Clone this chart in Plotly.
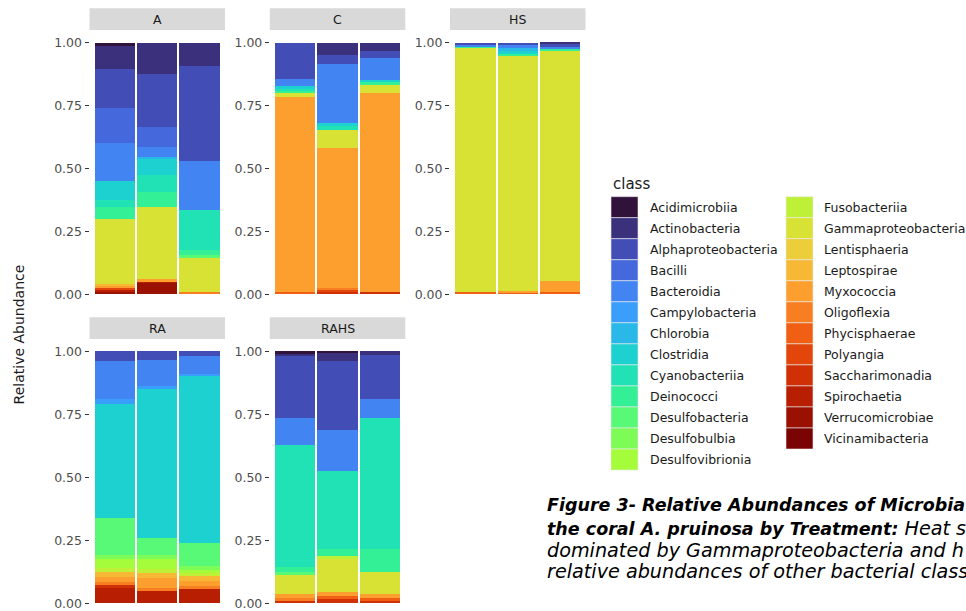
import plotly.graph_objects as go
from plotly.colors import sample_colorscale, sequential

W, H = 966, 611

classes = ["Acidimicrobiia", "Actinobacteria", "Alphaproteobacteria", "Bacilli", "Bacteroidia",
           "Campylobacteria", "Chlorobia", "Clostridia", "Cyanobacteriia", "Deinococci",
           "Desulfobacteria", "Desulfobulbia", "Desulfovibrionia", "Fusobacteriia",
           "Gammaproteobacteria", "Lentisphaeria", "Leptospirae", "Myxococcia", "Oligoflexia",
           "Phycisphaerae", "Polyangia", "Saccharimonadia", "Spirochaetia", "Verrucomicrobiae",
           "Vicinamibacteria"]

treatments = ["A", "C", "HS", "RA", "RAHS"]
samples = [1, 2, 3]

# relative abundance per treatment: class -> [sample1, sample2, sample3]
A = {
    "Acidimicrobiia": [0.012, 0, 0],
    "Actinobacteria": [0.092, 0.124, 0.092],
    "Alphaproteobacteria": [0.158, 0.211, 0.379],
    "Bacilli": [0.136, 0.080, 0],
    "Bacteroidia": [0.152, 0.040, 0.194],
    "Chlorobia": [0, 0.009, 0],
    "Clostridia": [0.075, 0.063, 0],
    "Cyanobacteriia": [0.030, 0.066, 0.160],
    "Deinococci": [0.046, 0.062, 0.020],
    "Desulfobacteria": [0, 0, 0.009],
    "Gammaproteobacteria": [0.257, 0.284, 0.138],
    "Leptospirae": [0.007, 0, 0],
    "Myxococcia": [0.008, 0.011, 0],
    "Oligoflexia": [0, 0, 0.008],
    "Polyangia": [0.008, 0, 0],
    "Spirochaetia": [0.008, 0.004, 0],
    "Verrucomicrobiae": [0.011, 0.046, 0],
}
C = {
    "Actinobacteria": [0, 0.049, 0.032],
    "Alphaproteobacteria": [0.145, 0.037, 0.030],
    "Bacteroidia": [0.026, 0.234, 0.086],
    "Clostridia": [0.013, 0.011, 0.009],
    "Cyanobacteriia": [0.008, 0.016, 0],
    "Deinococci": [0.008, 0, 0.011],
    "Gammaproteobacteria": [0.017, 0.070, 0.033],
    "Myxococcia": [0.775, 0.556, 0.788],
    "Oligoflexia": [0, 0.009, 0],
    "Phycisphaerae": [0.008, 0, 0],
    "Polyangia": [0, 0.008, 0],
    "Saccharimonadia": [0, 0.010, 0.011],
}
HS = {
    "Actinobacteria": [0, 0, 0.003],
    "Alphaproteobacteria": [0.007, 0.009, 0.013],
    "Bacteroidia": [0.007, 0.013, 0.011],
    "Chlorobia": [0, 0.013, 0],
    "Clostridia": [0, 0.009, 0],
    "Deinococci": [0.004, 0.008, 0.005],
    "Gammaproteobacteria": [0.974, 0.935, 0.914],
    "Myxococcia": [0, 0.005, 0.046],
    "Phycisphaerae": [0.008, 0.008, 0.008],
}
RA = {
    "Alphaproteobacteria": [0.036, 0.033, 0.016],
    "Bacteroidia": [0.154, 0.104, 0.073],
    "Campylobacteria": [0.017, 0.011, 0.007],
    "Clostridia": [0.453, 0.594, 0.666],
    "Desulfobacteria": [0.150, 0.066, 0.092],
    "Desulfobulbia": [0.013, 0.016, 0.013],
    "Desulfovibrionia": [0.037, 0.040, 0.013],
    "Fusobacteriia": [0.016, 0.017, 0.013],
    "Leptospirae": [0.021, 0.017, 0.017],
    "Myxococcia": [0.018, 0.040, 0.022],
    "Oligoflexia": [0.013, 0.013, 0.013],
    "Saccharimonadia": [0.011, 0, 0],
    "Spirochaetia": [0.061, 0.049, 0.055],
}
RAHS = {
    "Acidimicrobiia": [0.007, 0.005, 0],
    "Actinobacteria": [0.009, 0.033, 0.013],
    "Alphaproteobacteria": [0.248, 0.274, 0.177],
    "Bacteroidia": [0.106, 0.161, 0.074],
    "Cyanobacteriia": [0.488, 0.310, 0.520],
    "Deinococci": [0.018, 0.030, 0.092],
    "Desulfobacteria": [0.010, 0, 0],
    "Fusobacteriia": [0, 0.007, 0],
    "Gammaproteobacteria": [0.077, 0.135, 0.087],
    "Myxococcia": [0.016, 0.017, 0.016],
    "Oligoflexia": [0.011, 0, 0],
    "Phycisphaerae": [0, 0.013, 0.013],
    "Saccharimonadia": [0.010, 0.015, 0.008],
}
panel_data = {"A": A, "C": C, "HS": HS, "RA": RA, "RAHS": RAHS}

y_ticks = [0, 0.25, 0.5, 0.75, 1.0]
y_tick_labels = ["0.00", "0.25", "0.50", "0.75", "1.00"]

caption_lines = [
    ("<b><i>Figure 3- Relative Abundances of Microbia</i></b>"),
    ("<span style='font-size:17.5px'><b><i>the coral A. pruinosa by Treatment:</i></b></span><i> Heat s</i>"),
    ("<i>dominated by Gammaproteobacteria and h</i>"),
    ("<i>relative abundances of other bacterial class</i>"),
]
caption_sizes = [17.5, 19.2, 19.2, 19.2]

n = len(classes)
turbo_cols = sample_colorscale(sequential.Turbo, [i / (n - 1) for i in range(n)])
colors = dict(zip(classes, turbo_cols))

# panel geometry in pixels
col_x = [(89.5, 225.0), (269.8, 405.3), (450.0, 585.5)]
row_y = [(30.0, 308.0), (340.0, 611.0)]
row_range = [[-0.05, 1.05], [1.05 - (611 - 340) / 252.6, 1.05]]
panel_pos = {"A": (0, 0), "C": (0, 1), "HS": (0, 2), "RA": (1, 0), "RAHS": (1, 1)}

fig = go.Figure()
layout = {}
shapes = []
annotations = []
font = "DejaVu Sans"

for k, t in enumerate(treatments):
    idx = "" if k == 0 else str(k + 1)
    r, c = panel_pos[t]
    x0, x1 = col_x[c]
    y0, y1 = row_y[r]
    layout["xaxis" + idx] = dict(domain=[x0 / W, x1 / W], range=[0.4, 3.6], showticklabels=False,
                                 showgrid=False, zeroline=False, showline=False, ticks="",
                                 anchor="y" + idx, fixedrange=True)
    layout["yaxis" + idx] = dict(domain=[1 - y1 / H, 1 - y0 / H], range=row_range[r],
                                 tickvals=y_ticks, ticktext=y_tick_labels, ticks="outside",
                                 ticklen=4, tickwidth=1, tickcolor="#333333",
                                 tickfont=dict(family=font, size=12.5, color="#4D4D4D"),
                                 ticklabeloverflow="allow",
                                 showgrid=False, zeroline=False, showline=False,
                                 anchor="x" + idx, fixedrange=True)
    # strip
    sy0 = y0 - 21.7
    shapes.append(dict(type="rect", xref="paper", yref="paper", x0=x0 / W, x1=x1 / W,
                       y0=1 - y0 / H, y1=1 - sy0 / H, fillcolor="#D9D9D9", line=dict(width=0),
                       layer="below"))
    annotations.append(dict(text=t, xref="paper", yref="paper", x=(x0 + x1) / 2 / W,
                            y=1 - (y0 + sy0) / 2 / H, showarrow=False, xanchor="center",
                            yanchor="middle", font=dict(family=font, size=12.5, color="#1A1A1A")))

for cls in reversed(classes):
    for k, t in enumerate(treatments):
        vals = panel_data[t].get(cls)
        if vals is None:
            continue
        idx = "" if k == 0 else str(k + 1)
        fig.add_trace(go.Bar(x=samples, y=vals, width=0.95, name=cls,
                             marker=dict(color=colors[cls], line=dict(width=0)),
                             xaxis="x" + idx, yaxis="y" + idx, showlegend=False,
                             hovertemplate=cls + ": %{y}<extra>" + t + "</extra>"))

# manual legend (ggplot-style, two columns)
annotations.append(dict(text="class", xref="paper", yref="paper", x=611 / W, y=1 - 185 / H,
                        showarrow=False, xanchor="left", yanchor="middle",
                        font=dict(family=font, size=15, color="#1A1A1A")))
key_h = 21.1
top = 197.3
for i, cls in enumerate(classes):
    col = 0 if i < 13 else 1
    row = i if i < 13 else i - 13
    kx0 = 611 if col == 0 else 786
    tx = 647.7 if col == 0 else 821.7
    ky0 = top + row * key_h
    shapes.append(dict(type="rect", xref="paper", yref="paper", x0=kx0 / W, x1=(kx0 + 27) / W,
                       y0=1 - (ky0 + key_h) / H, y1=1 - ky0 / H, fillcolor=colors[cls],
                       line=dict(width=0.6, color="#EBEBEB")))
    annotations.append(dict(text=cls, xref="paper", yref="paper", x=tx / W,
                            y=1 - (ky0 + key_h / 2) / H, showarrow=False, xanchor="left",
                            yanchor="middle", font=dict(family=font, size=12.5, color="#1A1A1A")))

# y axis title
annotations.append(dict(text="Relative Abundance", xref="paper", yref="paper", x=18.5 / W,
                        y=1 - 336 / H, showarrow=False, textangle=-90, xanchor="center",
                        yanchor="middle", font=dict(family=font, size=14, color="#1A1A1A")))

# caption
cap_y = [507, 530, 552, 573.5]
for line, cy, fs in zip(caption_lines, cap_y, caption_sizes):
    annotations.append(dict(text=line, xref="paper", yref="paper", x=545 / W, y=1 - cy / H,
                            showarrow=False, xanchor="left", yanchor="middle",
                            font=dict(family="DejaVu Sans", size=fs, color="#000000")))

fig.update_layout(width=W, height=H, margin=dict(l=0, r=0, t=0, b=0), barmode="stack",
                  paper_bgcolor="white", plot_bgcolor="white", showlegend=False,
                  shapes=shapes, annotations=annotations, **layout)

fig.write_html("out.html", config={"displayModeBar": False},
               post_script="document.body.style.margin='0';document.body.style.overflow='hidden';")
